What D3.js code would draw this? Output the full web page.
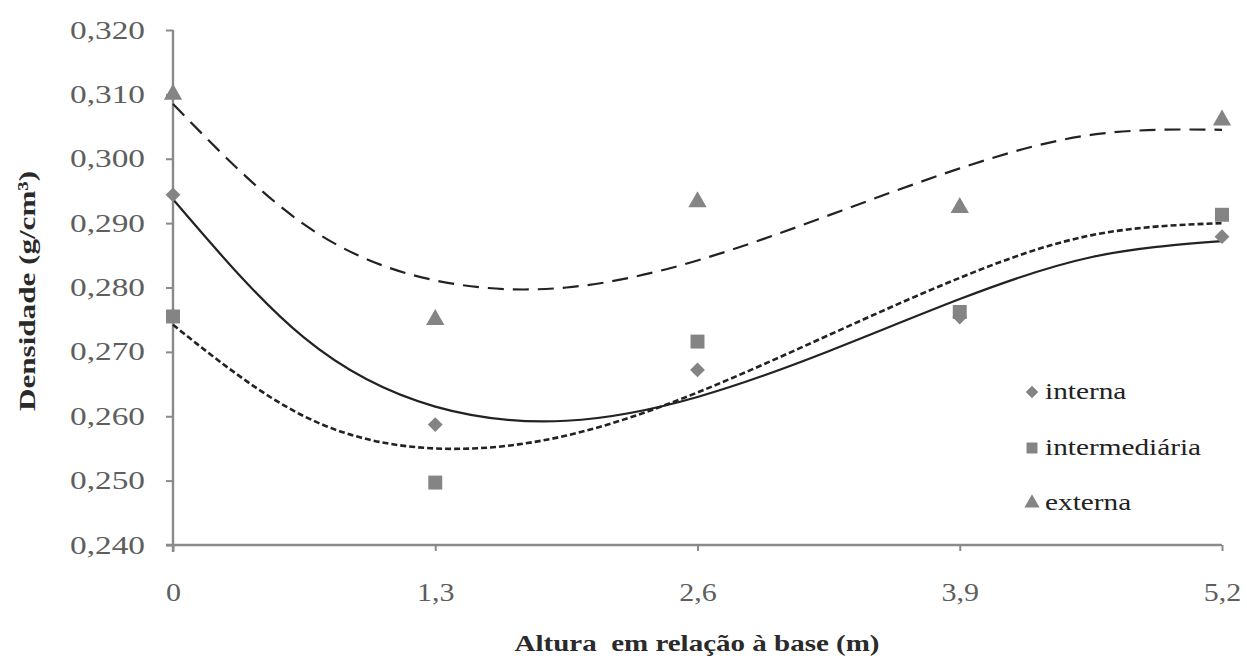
<!DOCTYPE html>
<html><head><meta charset="utf-8">
<script src="https://cdn.jsdelivr.net/npm/d3@7"></script>
<style>
html,body{margin:0;padding:0;background:#fff;}
svg{display:block;}
svg text{font-family:"Liberation Serif","DejaVu Serif","Times New Roman",serif !important;}
</style>
</head><body>
<svg id="chart" width="1247" height="656"></svg>
<script>
// ---- data ----
const xCategories = [0, 1.3, 2.6, 3.9, 5.2];
const xTickLabels = ["0", "1,3", "2,6", "3,9", "5,2"];
const yTicks = [0.240, 0.250, 0.260, 0.270, 0.280, 0.290, 0.300, 0.310, 0.320];
const interna = [0.2944, 0.2587, 0.2672, 0.2754, 0.2879];
const intermediaria = [0.2755, 0.2497, 0.2716, 0.2762, 0.2913];
const externa = [0.3100, 0.2750, 0.2933, 0.2924, 0.3060];
// trend lines
const trendX = [0, 0.65, 1.3, 1.95, 2.6, 3.25, 3.9, 4.55, 5.2];
const trendInterna = [0.2937, 0.2722, 0.2615, 0.2593, 0.2630, 0.2701, 0.2782, 0.2847, 0.2872];
const trendIntermediaria = [0.2742, 0.2600, 0.2550, 0.2570, 0.2637, 0.2726, 0.2815, 0.2881, 0.2900];
const trendExterna = [0.3085, 0.2898, 0.2811, 0.2800, 0.2842, 0.2912, 0.2985, 0.3037, 0.3045];

const svg = d3.select("#chart");
const L = 173, R = 1222, T = 30, B = 545;
const x = d3.scaleLinear().domain([0, 5.2]).range([L, R]);
const y = d3.scaleLinear().domain([0.240, 0.320]).range([B, T]);
const font = "DejaVu Serif";
const axisCol = "#8a8a8a";
const markCol = "#848484";

function stretch(sel, k) {
  sel.each(function() {
    const w = this.getComputedTextLength();
    d3.select(this).attr("textLength", w * k).attr("lengthAdjust", "spacingAndGlyphs");
  });
}

// axes
const yAxis = svg.append("g").attr("transform", `translate(${L},0)`)
  .call(d3.axisLeft(y).tickValues(yTicks).tickSize(7).tickPadding(21)
    .tickFormat(d => d3.format(".3f")(d).replace(".", ",")));
const xAxis = svg.append("g").attr("transform", `translate(0,${B})`)
  .call(d3.axisBottom(x).tickValues(xCategories).tickSize(6).tickPadding(32)
    .tickFormat((d, i) => xTickLabels[i]));
[yAxis, xAxis].forEach(g => {
  g.attr("font-family", font).attr("font-size", 25);
  g.select(".domain").attr("stroke", axisCol).attr("stroke-width", 2.4);
  g.selectAll(".tick line").attr("stroke", axisCol).attr("stroke-width", 2);
  g.selectAll(".tick text").attr("fill", "#5e5e5e");
});
yAxis.select(".domain").attr("d", `M0,${T}H0V${B + 7}`);
xAxis.select(".domain").attr("d", `M${L - 7},0H${R}`);
yAxis.selectAll(".tick text").attr("textLength", 75).attr("lengthAdjust", "spacingAndGlyphs");
stretch(xAxis.selectAll(".tick text"), 1.2);

// trend lines
const line = d3.line().x(d => x(d[0])).y(d => y(d[1])).curve(d3.curveNatural);
function trend(vals, dash, w) {
  svg.append("path").datum(trendX.map((t, i) => [t, vals[i]]))
    .attr("d", line).attr("fill", "none").attr("stroke", "#222")
    .attr("stroke-width", w).attr("stroke-dasharray", dash);
}
trend(trendExterna, "16,9", 2.2);
trend(trendIntermediaria, "6,3", 2.6);
trend(trendInterna, null, 2.2);

// markers
const sym = {
  d: d3.symbol().type(d3.symbolDiamond2).size(140),
  s: d3.symbol().type(d3.symbolSquare).size(195),
  t: d3.symbol().type(d3.symbolTriangle).size(145)
};
function points(vals, s) {
  svg.append("g").selectAll("path").data(vals).join("path")
    .attr("d", s).attr("fill", markCol)
    .attr("transform", (d, i) => `translate(${x(xCategories[i])},${y(d)})`);
}
points(interna, sym.d);
points(intermediaria, sym.s);
points(externa, sym.t);

// legend
const legend = [
  {name: "interna", s: d3.symbol().type(d3.symbolDiamond2).size(100), y: 392},
  {name: "intermediária", s: d3.symbol().type(d3.symbolSquare).size(120), y: 448},
  {name: "externa", s: d3.symbol().type(d3.symbolTriangle).size(100), y: 503}
];
const lg = svg.append("g").attr("font-family", font).attr("font-size", 24);
legend.forEach(l => {
  lg.append("path").attr("d", l.s).attr("fill", markCol)
    .attr("transform", `translate(1032,${l.y})`);
  lg.append("text").attr("x", 1045).attr("y", l.y + 7).text(l.name)
    .attr("fill", "#222");
});
stretch(lg.selectAll("text"), 1.22);

// axis titles
svg.append("text").attr("transform", "translate(35,291) rotate(-90)")
  .attr("text-anchor", "middle").text("Densidade (g/cm³)")
  .attr("font-family", font).attr("font-size", 24).attr("font-weight", "bold")
  .attr("fill", "#2a2a2a")
  .attr("textLength", 240).attr("lengthAdjust", "spacingAndGlyphs");
svg.append("text").attr("x", 697).attr("y", 651)
  .attr("text-anchor", "middle").text("Altura\u00a0 em relação à base (m)")
  .attr("font-family", font).attr("font-size", 23).attr("font-weight", "bold")
  .attr("fill", "#2a2a2a")
  .attr("textLength", 365).attr("lengthAdjust", "spacingAndGlyphs");
</script>
</body></html>
